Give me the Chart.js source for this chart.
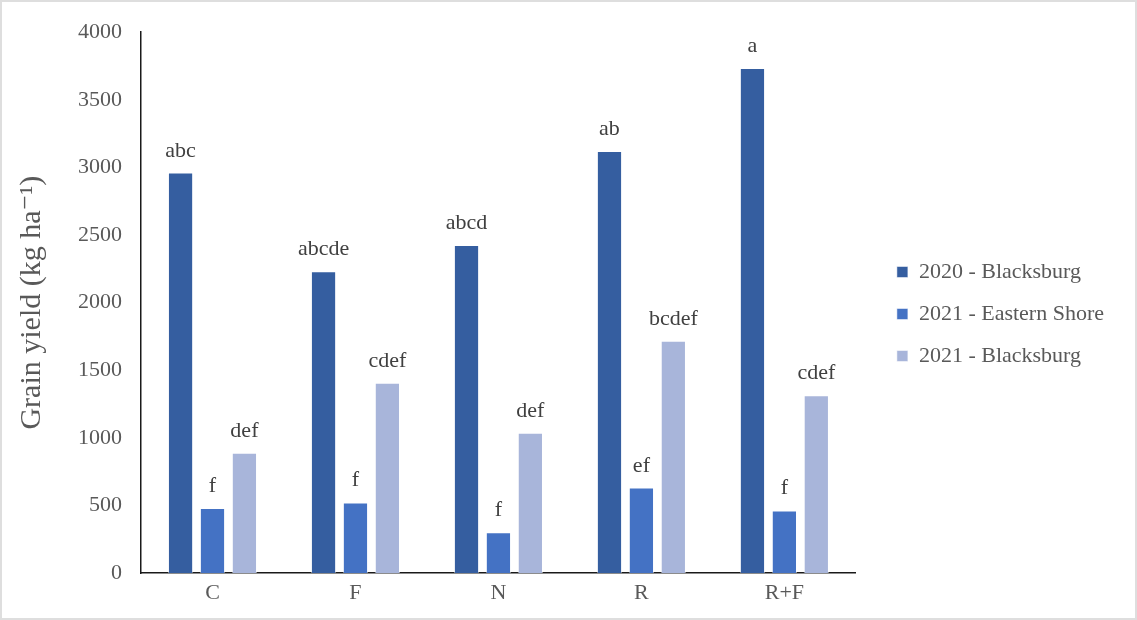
<!DOCTYPE html>
<html>
<head>
<meta charset="utf-8">
<script src="https://cdn.jsdelivr.net/npm/chart.js@4"></script>
<style>
    html, body { margin: 0; padding: 0; background: #fff; }
    #wrap { position: relative; width: 1137px; height: 620px; box-shadow: inset 0 0 0 2px #dedede; }
</style>
</head>
<body>
<div id="wrap"><canvas id="yieldChart"></canvas></div>
<script>
const treatments = ['C', 'F', 'N', 'R', 'R+F'];
const seriesNames = ['2020 - Blacksburg', '2021 - Eastern Shore', '2021 - Blacksburg'];
const blacksburg2020 = [2962, 2232, 2426, 3122, 3736];
const easternShore2021 = [480, 522, 302, 632, 463];
const blacksburg2021 = [890, 1408, 1038, 1718, 1314];
const letters2020 = ['abc', 'abcde', 'abcd', 'ab', 'a'];
const lettersES2021 = ['f', 'f', 'f', 'ef', 'f'];
const letters2021 = ['def', 'cdef', 'def', 'bcdef', 'cdef'];
const yTicks = [0, 500, 1000, 1500, 2000, 2500, 3000, 3500, 4000];

const serif = "'Liberation Serif', 'DejaVu Serif', serif";
const colors = ['#355ea0', '#4472c4', '#a8b5da'];

// Draw significance letters above each bar
const letterPlugin = {
    id: 'letters',
    afterDatasetsDraw(chart) {
        const ctx = chart.ctx;
        const allLetters = [letters2020, lettersES2021, letters2021];
        ctx.save();
        ctx.font = '22px ' + serif;
        ctx.fillStyle = '#404040';
        ctx.textAlign = 'center';
        ctx.textBaseline = 'alphabetic';
        chart.data.datasets.forEach((ds, i) => {
            const meta = chart.getDatasetMeta(i);
            meta.data.forEach((bar, j) => {
                ctx.fillText(allLetters[i][j], bar.x, bar.y - 16);
            });
        });
        ctx.restore();
    }
};

// empty axis used only as spacing
const spacer = (size) => ({
    display: true,
    grid: { display: false, drawTicks: false },
    border: { display: false },
    ticks: { display: false },
    afterFit(scale) {
        if (scale.isHorizontal()) scale.height = size; else scale.width = size;
    }
});

new Chart(document.getElementById('yieldChart'), {
    type: 'bar',
    data: {
        labels: treatments,
        datasets: [blacksburg2020, easternShore2021, blacksburg2021].map((vals, i) => ({
            label: seriesNames[i],
            data: vals,
            backgroundColor: colors[i],
            borderColor: 'rgba(255,255,255,0.5)',
            borderWidth: 1,
            categoryPercentage: 0.67,
            barPercentage: 0.79
        }))
    },
    options: {
        responsive: true,
        maintainAspectRatio: false,
        animation: false,
        layout: { padding: { top: 20, right: 23, left: 0, bottom: 12 } },
        plugins: {
            tooltip: { enabled: false },
            legend: {
                position: 'right',
                maxWidth: 300,
                labels: {
                    font: { family: serif, size: 22 },
                    color: '#595959',
                    boxWidth: 11,
                    boxHeight: 11,
                    padding: 20
                }
            }
        },
        scales: {
            x: {
                grid: { display: false, drawTicks: false },
                border: { display: true, color: '#1a1a1a', width: 1.5 },
                ticks: {
                    font: { family: serif, size: 22 },
                    color: '#595959',
                    padding: 7
                },
                afterFit(scale) { scale.height = 35; }
            },
            x2: Object.assign({ type: 'category', position: 'top' }, spacer(10)),
            y: {
                min: 0,
                max: 4000,
                afterBuildTicks(scale) {
                    scale.ticks = yTicks.map(v => ({ value: v }));
                },
                grid: { display: false, drawTicks: false },
                border: { display: true, color: '#1a1a1a', width: 1.5 },
                ticks: {
                    font: { family: serif, size: 22 },
                    color: '#595959',
                    padding: 19,
                    callback: v => String(v)
                },
                title: {
                    display: true,
                    text: 'Grain yield (kg ha⁻¹)',
                    font: { family: serif, size: 30 },
                    color: '#595959',
                    padding: { top: 14, bottom: 0 }
                },
                afterFit(scale) { scale.width = 141; }
            },
            y2: Object.assign({ type: 'linear', position: 'right' }, spacer(21))
        }
    },
    plugins: [letterPlugin]
});
</script>
</body>
</html>
